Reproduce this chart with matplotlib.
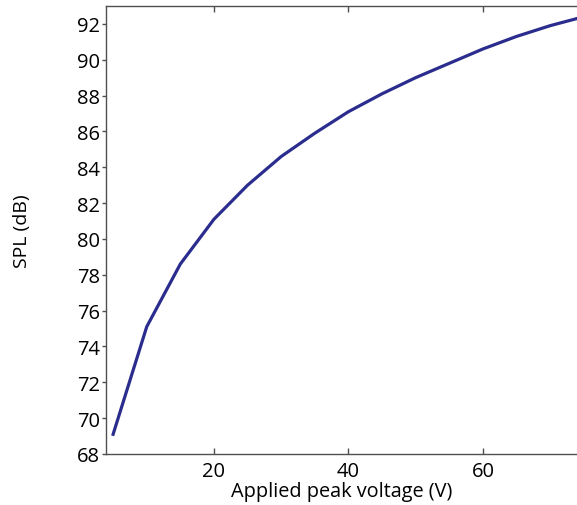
import matplotlib.pyplot as plt

plt.rcParams['font.family'] = ['Open Sans', 'DejaVu Sans']

# peak voltage (V) and measured sound pressure level (dB)
voltage = [5, 10, 15, 20, 25, 30, 35, 40, 45, 50, 55, 60, 65, 70, 75]
spl = [69.1, 75.1, 78.6, 81.1, 83.0, 84.6, 85.9, 87.1, 88.1, 89.0, 89.8, 90.6, 91.3, 91.9, 92.4]

xticks = [20, 40, 60]
yticks = list(range(68, 93, 2))

fig = plt.figure(figsize=(5.77, 5.06), dpi=100)
ax = fig.add_axes([0.1832, 0.1008, 0.8168, 0.8854])

ax.plot(voltage, spl, color='#2b2d8e', lw=2.3, solid_joinstyle='miter')

ax.set_xlim(3.9, 74)
ax.set_ylim(68, 93)
ax.set_xticks(xticks)
ax.set_yticks(yticks)

for s in ['left', 'bottom', 'top']:
    ax.spines[s].set_color('#505050')
    ax.spines[s].set_linewidth(1.0)
ax.spines['right'].set_visible(False)

ax.tick_params(axis='x', direction='in', length=4, width=1, color='#505050',
               top=True, labelsize=14.5, pad=5)
ax.tick_params(axis='y', direction='out', length=3, width=1, color='#505050',
               labelsize=14.5, pad=1)

ax.set_xlabel('Applied peak voltage (V)', fontsize=14.3, labelpad=0)
ax.set_ylabel('SPL (dB)', fontsize=14, labelpad=33)

fig.savefig('out.png', dpi=100)
